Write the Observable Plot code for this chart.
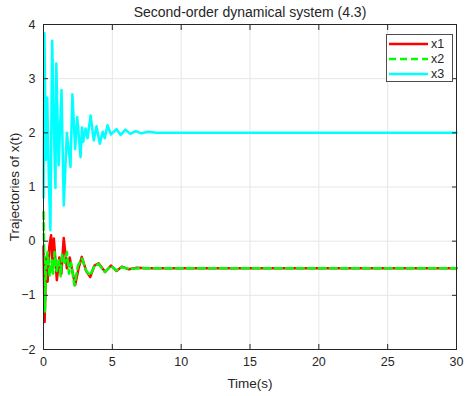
<!DOCTYPE html>
<html>
<head>
<meta charset="utf-8">
<script src="https://cdn.jsdelivr.net/npm/d3@7"></script>
<script src="https://cdn.jsdelivr.net/npm/@observablehq/plot@0.6"></script>
<style>
  html, body { margin: 0; padding: 0; background: #fff; }
  #wrap { position: relative; width: 470px; height: 396px; font-family: "Liberation Sans", Arial, sans-serif; }
  #legend { position: absolute; left: 386px; top: 34px; width: 67px; height: 48px; background: #fff; border: 1px solid #4d4d4d; box-sizing: border-box; }
  .item { position: absolute; left: 2px; height: 14px; display: flex; align-items: center; font-size: 12.5px; color: #262626; }
  .item svg { margin-right: 3px; }
</style>
</head>
<body>
<div id="wrap"></div>
<script>
const title = "Second-order dynamical system (4.3)";
const xLabel = "Time(s)";
const yLabel = "Trajectories of x(t)";
const seriesNames = ["x1", "x2", "x3"];
const seriesColors = ["#ff0000", "#00ff00", "#00ffff"];
const xTicks = [0, 5, 10, 15, 20, 25, 30];
const yTicks = [-2, -1, 0, 1, 2, 3, 4];

// x1 (red)
const t1 = [0, 0.08, 0.2, 0.3, 0.42, 0.55, 0.65, 0.75, 0.97, 1.15, 1.3, 1.47, 1.7, 1.9, 2.3, 2.55, 2.78, 3.1, 3.4, 3.7, 4.0, 4.48, 4.9, 5.3, 5.7, 6.2, 6.8, 7.5, 30];
const x1 = [-0.1, -1.49, -0.3, -0.75, -0.1, 0.11, -0.5, 0.05, -0.72, -0.3, -0.6, 0.06, -0.5, -0.3, -0.81, -0.5, -0.29, -0.55, -0.66, -0.45, -0.41, -0.57, -0.45, -0.55, -0.47, -0.52, -0.49, -0.5, -0.5];

// x2 (green, dashed)
const t2 = [0, 0.05, 0.1, 0.2, 0.3, 0.45, 0.6, 0.7, 0.8, 0.95, 1.1, 1.25, 1.35, 1.55, 1.7, 1.85, 2.0, 2.25, 2.5, 2.8, 3.1, 3.4, 3.7, 4.0, 4.45, 4.9, 5.3, 5.7, 6.2, 7.0, 30];
const x2 = [0.54, -0.3, -1.3, -0.4, -0.2, -0.65, -0.35, -0.6, -0.2, -0.55, -0.35, -0.65, -0.25, -0.4, -0.2, -0.6, -0.4, -0.82, -0.45, -0.32, -0.55, -0.63, -0.45, -0.42, -0.57, -0.46, -0.54, -0.48, -0.51, -0.5, -0.5];

// x3 (cyan)
const t3 = [0, 0.07, 0.17, 0.27, 0.4, 0.5, 0.63, 0.8, 0.87, 0.93, 1.1, 1.31, 1.47, 1.7, 1.96, 2.1, 2.3, 2.45, 2.69, 2.8, 2.88, 3.05, 3.2, 3.42, 3.65, 3.85, 4.09, 4.3, 4.45, 4.65, 4.9, 5.3, 5.6, 5.95, 6.3, 6.7, 7.1, 7.6, 8.2, 30];
const x3 = [0.8, 3.84, 1.5, 2.65, 1.0, 0.2, 3.70, 1.6, 0.98, 3.28, 1.4, 2.79, 0.66, 2.0, 1.37, 2.71, 1.7, 2.29, 1.55, 2.1, 1.83, 2.08, 1.9, 2.32, 1.86, 2.12, 1.80, 2.02, 1.9, 2.14, 1.97, 2.07, 1.96, 2.06, 1.98, 2.03, 1.99, 2.02, 2.0, 2.0];

const rows = (ts, vs) => ts.map((t, i) => ({t, v: vs[i]}));
const r1 = rows(t1, x1), r2 = rows(t2, x2), r3 = rows(t3, x3);
const ink = "#262626";
const fmt = d3.format("d");

const chart = Plot.plot({
  width: 470, height: 396,
  marginLeft: 43, marginRight: 14, marginTop: 24, marginBottom: 47,
  x: {domain: [0, 30]},
  y: {domain: [-2, 4]},
  style: {fontFamily: "Liberation Sans, Arial, sans-serif", fontSize: "12.5px", color: ink, background: "#fff", overflow: "visible"},
  marks: [
    Plot.gridX(xTicks, {stroke: "#e6e6e6", strokeOpacity: 1}),
    Plot.gridY(yTicks, {stroke: "#e6e6e6", strokeOpacity: 1}),
    Plot.line(r3, {x: "t", y: "v", stroke: seriesColors[2], strokeWidth: 2.5}),
    Plot.line(r1, {x: "t", y: "v", stroke: seriesColors[0], strokeWidth: 2.5}),
    Plot.line(r2, {x: "t", y: "v", stroke: seriesColors[1], strokeWidth: 2.5, strokeDasharray: "7,4"}),
    Plot.frame({stroke: ink, strokeWidth: 1}),
    Plot.axisX(xTicks, {anchor: "bottom", tickSize: -5, tickFormat: () => "", label: null, stroke: ink}),
    Plot.axisX(xTicks, {anchor: "top", tickSize: -5, tickFormat: () => "", label: null, stroke: ink}),
    Plot.axisY(yTicks, {anchor: "left", tickSize: -5, tickFormat: () => "", label: null, stroke: ink}),
    Plot.axisY(yTicks, {anchor: "right", tickSize: -5, tickFormat: () => "", label: null, stroke: ink}),
    Plot.axisX(xTicks, {anchor: "bottom", tickSize: 0, tickPadding: 8, tickFormat: fmt, label: null, fill: ink}),
    Plot.axisY(yTicks, {anchor: "left", tickSize: 0, tickPadding: 8, tickFormat: fmt, label: null, fill: ink}),
    Plot.text([title], {frameAnchor: "top", dy: -12, fontSize: 14, textAnchor: "middle", lineAnchor: "middle", fill: ink}),
    Plot.text([xLabel], {frameAnchor: "bottom", dy: 34, fontSize: 13.5, textAnchor: "middle", lineAnchor: "middle", fill: ink}),
    Plot.text([yLabel], {frameAnchor: "left", dx: -29, rotate: -90, fontSize: 13.5, textAnchor: "middle", lineAnchor: "middle", fill: ink})
  ]
});
const wrap = document.getElementById("wrap");
wrap.appendChild(chart);

const legend = document.createElement("div");
legend.id = "legend";
seriesNames.forEach((name, i) => {
  const it = document.createElement("div");
  it.className = "item";
  it.style.top = (2 + i * 15) + "px";
  const dash = i === 1 ? 'stroke-dasharray="7,4"' : "";
  it.innerHTML = `<svg width="39" height="6"><line x1="0" y1="3" x2="39" y2="3" stroke="${seriesColors[i]}" stroke-width="2.5" ${dash}/></svg><span>${name}</span>`;
  legend.appendChild(it);
});
wrap.appendChild(legend);
</script>
</body>
</html>
